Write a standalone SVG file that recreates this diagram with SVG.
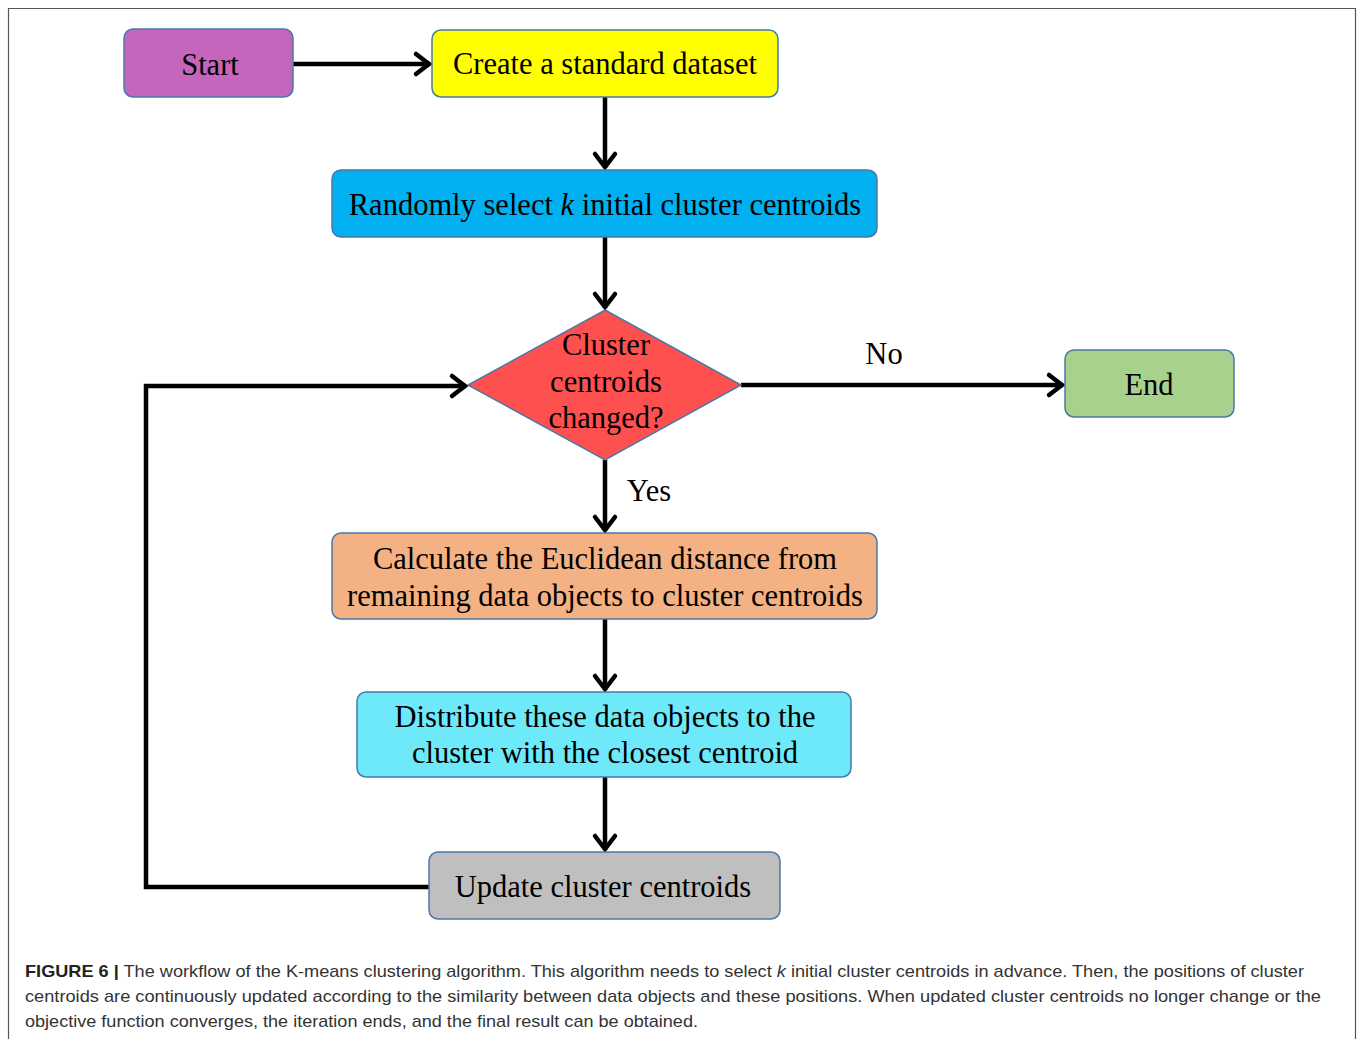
<svg xmlns="http://www.w3.org/2000/svg" width="1357" height="1039" viewBox="0 0 1357 1039">
<style>
.n{stroke:#4A78A8;stroke-width:1.5}
.t{font-family:"Liberation Serif","Times New Roman",serif;font-size:30.5px;fill:#000;text-anchor:middle}
.c{stroke:#000;stroke-width:4.5;fill:none}
.cap{font-family:"Liberation Sans",Arial,sans-serif;font-size:17px;fill:#333}
</style>
<defs>
<marker id="ah" markerUnits="userSpaceOnUse" markerWidth="30" markerHeight="30" viewBox="-20 -15 30 30" refX="1" refY="0" orient="auto">
<path d="M-13,-10 L0,0 L-13,10" fill="none" stroke="#000" stroke-width="4.5" stroke-linecap="round" stroke-linejoin="miter"/>
</marker>
</defs>
<rect width="1357" height="1039" fill="#fff"/>
<path d="M8.5,1039 V8.5 H1355.5 V1039" fill="none" stroke="#555" stroke-width="1.2"/>
<g id="connectors">
<path class="c" d="M293,64 H430" marker-end="url(#ah)"/>
<path class="c" d="M605,97 V168" marker-end="url(#ah)"/>
<path class="c" d="M605,237 V308" marker-end="url(#ah)"/>
<path class="c" d="M741,385 H1063" marker-end="url(#ah)"/>
<path class="c" d="M605,460 V531" marker-end="url(#ah)"/>
<path class="c" d="M605,619 V690" marker-end="url(#ah)"/>
<path class="c" d="M605,777 V850" marker-end="url(#ah)"/>
<path class="c" d="M429,887 H146 V386 H466" marker-end="url(#ah)"/>
<text class="t" x="884" y="364">No</text>
<text class="t" x="649" y="501">Yes</text>
</g>
<g id="start">
<rect class="n" x="124" y="29" width="169" height="68" rx="9" fill="#C566BC"/>
<text class="t" x="210" y="75">Start</text>
</g>
<g id="create">
<rect class="n" x="432" y="30" width="346" height="67" rx="9" fill="#FFFF00"/>
<text class="t" x="605" y="74">Create a standard dataset</text>
</g>
<g id="random">
<rect class="n" x="332" y="170" width="545" height="67" rx="9" fill="#00B0F0"/>
<text class="t" x="605" y="215">Randomly select <tspan font-style="italic">k</tspan> initial cluster centroids</text>
</g>
<g id="decision">
<polygon class="n" points="605,310 741,385 605,460 468,385" fill="#FF5050"/>
<text class="t" x="606" y="355">Cluster</text>
<text class="t" x="606" y="392">centroids</text>
<text class="t" x="606" y="428">changed?</text>
</g>
<g id="end">
<rect class="n" x="1065" y="350" width="169" height="67" rx="9" fill="#A9D18E"/>
<text class="t" x="1149" y="395">End</text>
</g>
<g id="calculate">
<rect class="n" x="332" y="533" width="545" height="86" rx="9" fill="#F4B183"/>
<text class="t" x="605" y="569">Calculate the Euclidean distance from</text>
<text class="t" x="605" y="606">remaining data objects to cluster centroids</text>
</g>
<g id="distribute">
<rect class="n" x="357" y="692" width="494" height="85" rx="9" fill="#6DE9FA"/>
<text class="t" x="605" y="727">Distribute these data objects to the</text>
<text class="t" x="605" y="763">cluster with the closest centroid</text>
</g>
<g id="update">
<rect class="n" x="429" y="852" width="351" height="67" rx="9" fill="#BFBFBF"/>
<text class="t" x="603" y="897">Update cluster centroids</text>
</g>
<g id="caption">
<text class="cap" x="25" y="977" textLength="1279" lengthAdjust="spacingAndGlyphs"><tspan font-weight="bold" fill="#222">FIGURE 6 |</tspan> The workflow of the K-means clustering algorithm. This algorithm needs to select <tspan font-style="italic">k</tspan> initial cluster centroids in advance. Then, the positions of cluster</text>
<text class="cap" x="25" y="1002" textLength="1296" lengthAdjust="spacingAndGlyphs">centroids are continuously updated according to the similarity between data objects and these positions. When updated cluster centroids no longer change or the</text>
<text class="cap" x="25" y="1027" textLength="673" lengthAdjust="spacingAndGlyphs">objective function converges, the iteration ends, and the final result can be obtained.</text>
</g>
</svg>
